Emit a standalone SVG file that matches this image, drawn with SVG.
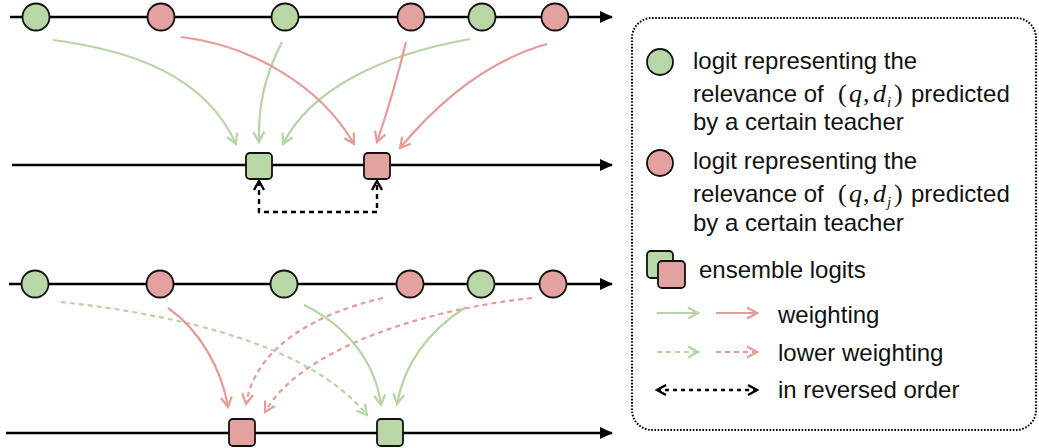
<svg xmlns="http://www.w3.org/2000/svg" width="1039" height="448" viewBox="0 0 1039 448">
<style>
.axis{stroke:#000;stroke-width:2.6;fill:none}
.gc{fill:#b9d6a7;stroke:#111;stroke-width:1.8}
.rc{fill:#e3a19f;stroke:#111;stroke-width:1.8}
.ga{stroke:#b5d5a2;stroke-width:2.2;fill:none;marker-end:url(#mg)}
.ra{stroke:#e69b98;stroke-width:2.2;fill:none;marker-end:url(#mr)}
.dash{stroke-dasharray:5 4}
.blk{stroke:#000;stroke-width:2.4;fill:none;stroke-dasharray:5 4;marker-start:url(#mk);marker-end:url(#mk)}
.t{font-family:"Liberation Sans",Arial,sans-serif;font-size:24px;fill:#111}
.m{font-family:"Liberation Serif","Times New Roman","DejaVu Serif",serif;font-size:26px;fill:#111}
.mi{font-style:italic}
</style>
<defs>
<marker id="ax" markerUnits="userSpaceOnUse" markerWidth="14" markerHeight="12" viewBox="0 0 14 12" refX="12" refY="6" orient="auto"><path d="M0,0 L13,6 L0,12 Z" fill="#000"/></marker>
<marker id="mg" markerUnits="userSpaceOnUse" markerWidth="14" markerHeight="14" viewBox="0 0 14 14" refX="12" refY="7" orient="auto"><path d="M2,1.5 L12,7 L2,12.5" fill="none" stroke="#b5d5a2" stroke-width="2.2"/></marker>
<marker id="mr" markerUnits="userSpaceOnUse" markerWidth="14" markerHeight="14" viewBox="0 0 14 14" refX="12" refY="7" orient="auto"><path d="M2,1.5 L12,7 L2,12.5" fill="none" stroke="#e69b98" stroke-width="2.2"/></marker>
<marker id="mk" markerUnits="userSpaceOnUse" markerWidth="14" markerHeight="14" viewBox="0 0 14 14" refX="12" refY="7" orient="auto-start-reverse"><path d="M3,2 L12,7 L3,12" fill="none" stroke="#000" stroke-width="2.4"/></marker>
</defs>

<g id="axes">
<path class="axis" d="M10,17 L612,17" marker-end="url(#ax)"/>
<path class="axis" d="M12,165 L612,165" marker-end="url(#ax)"/>
<path class="axis" d="M9,284 L612,284" marker-end="url(#ax)"/>
<path class="axis" d="M6,433 L612,433" marker-end="url(#ax)"/>
</g>

<g id="connectors">
<path class="ga" d="M53,40 C130,50 205,75 236,144"/>
<path class="ga" d="M282,42 C265,75 258,105 259,142"/>
<path class="ga" d="M470,39 C380,55 310,90 283,144"/>
<path class="ra" d="M181,37 C250,45 320,85 354,144"/>
<path class="ra" d="M406,42 C398,75 388,110 377,142"/>
<path class="ra" d="M547,44 C490,60 440,100 400,148"/>
<path class="blk" d="M259,181 L259,212 L377,212 L377,181"/>

<path class="ga dash" d="M61,302 C180,315 310,345 367,415"/>
<path class="ra" d="M168,308 C200,330 222,370 228,407"/>
<path class="ra dash" d="M383,298 C310,315 255,350 246,404"/>
<path class="ra dash" d="M532,298 C420,310 300,350 265,412"/>
<path class="ga" d="M304,305 C345,325 375,360 381,405"/>
<path class="ga" d="M466,307 C430,330 405,360 397,404"/>
</g>

<g id="top-logits">
<circle id="t1" class="gc" cx="36" cy="17" r="13.5"/>
<circle id="t2" class="rc" cx="161" cy="17" r="13.5"/>
<circle id="t3" class="gc" cx="285" cy="17" r="13.5"/>
<circle id="t4" class="rc" cx="411" cy="17" r="13.5"/>
<circle id="t5" class="gc" cx="482" cy="17" r="13.5"/>
<circle id="t6" class="rc" cx="555" cy="17" r="13.5"/>
</g>
<g id="top-ensemble">
<rect id="te-g" class="gc" x="246" y="153" width="26" height="26" rx="4"/>
<rect id="te-r" class="rc" x="364" y="153" width="26" height="26" rx="4"/>
</g>
<g id="bottom-logits">
<circle id="b1" class="gc" cx="35" cy="284" r="13.5"/>
<circle id="b2" class="rc" cx="160" cy="284" r="13.5"/>
<circle id="b3" class="gc" cx="284" cy="284" r="13.5"/>
<circle id="b4" class="rc" cx="410" cy="284" r="13.5"/>
<circle id="b5" class="gc" cx="481" cy="284" r="13.5"/>
<circle id="b6" class="rc" cx="553" cy="284" r="13.5"/>
</g>
<g id="bottom-ensemble">
<rect id="be-r" class="rc" x="229" y="419" width="26" height="27" rx="4"/>
<rect id="be-g" class="gc" x="377" y="419" width="26" height="27" rx="4"/>
</g>

<g id="legend">
<rect x="632" y="18" width="404" height="412" rx="20" fill="none" stroke="#000" stroke-width="2" stroke-dasharray="1.6 1.6"/>
<g id="leg-green">
<circle class="gc" cx="660" cy="62" r="13"/>
<text class="t" x="693" y="69">logit representing the</text>
<text class="t" x="693" y="102">relevance of</text>
<text class="m" y="102"><tspan x="838">(</tspan><tspan class="mi" x="849">q</tspan><tspan x="863">,</tspan><tspan class="mi" x="873">d</tspan><tspan class="mi" x="887" y="107" font-size="15">i</tspan><tspan x="894" y="102">)</tspan></text>
<text class="t" x="911" y="102">predicted</text>
<text class="t" x="693" y="130">by a certain teacher</text>
</g>
<g id="leg-red">
<circle class="rc" cx="660" cy="163" r="13"/>
<text class="t" x="693" y="169">logit representing the</text>
<text class="t" x="693" y="202">relevance of</text>
<text class="m" y="202"><tspan x="838">(</tspan><tspan class="mi" x="849">q</tspan><tspan x="863">,</tspan><tspan class="mi" x="873">d</tspan><tspan class="mi" x="887" y="207" font-size="15">j</tspan><tspan x="894" y="202">)</tspan></text>
<text class="t" x="911" y="202">predicted</text>
<text class="t" x="693" y="231">by a certain teacher</text>
</g>
<g id="leg-ensemble">
<rect class="gc" x="647" y="251" width="26" height="27" rx="4"/>
<rect class="rc" x="658" y="261" width="27" height="27" rx="4"/>
<text class="t" x="699" y="278">ensemble logits</text>
</g>
<g id="leg-weighting">
<path class="ga" d="M657,313 L698,313"/>
<path class="ra" d="M716,313 L757,313"/>
<text class="t" x="778" y="323">weighting</text>
</g>
<g id="leg-lower">
<path class="ga dash" d="M657,352 L698,352"/>
<path class="ra dash" d="M716,352 L757,352"/>
<text class="t" x="778" y="361">lower weighting</text>
</g>
<g id="leg-reversed">
<path class="blk" d="M657,390 L757,390" style="stroke-dasharray:4 4"/>
<text class="t" x="778" y="398">in reversed order</text>
</g>
</g>
</svg>
